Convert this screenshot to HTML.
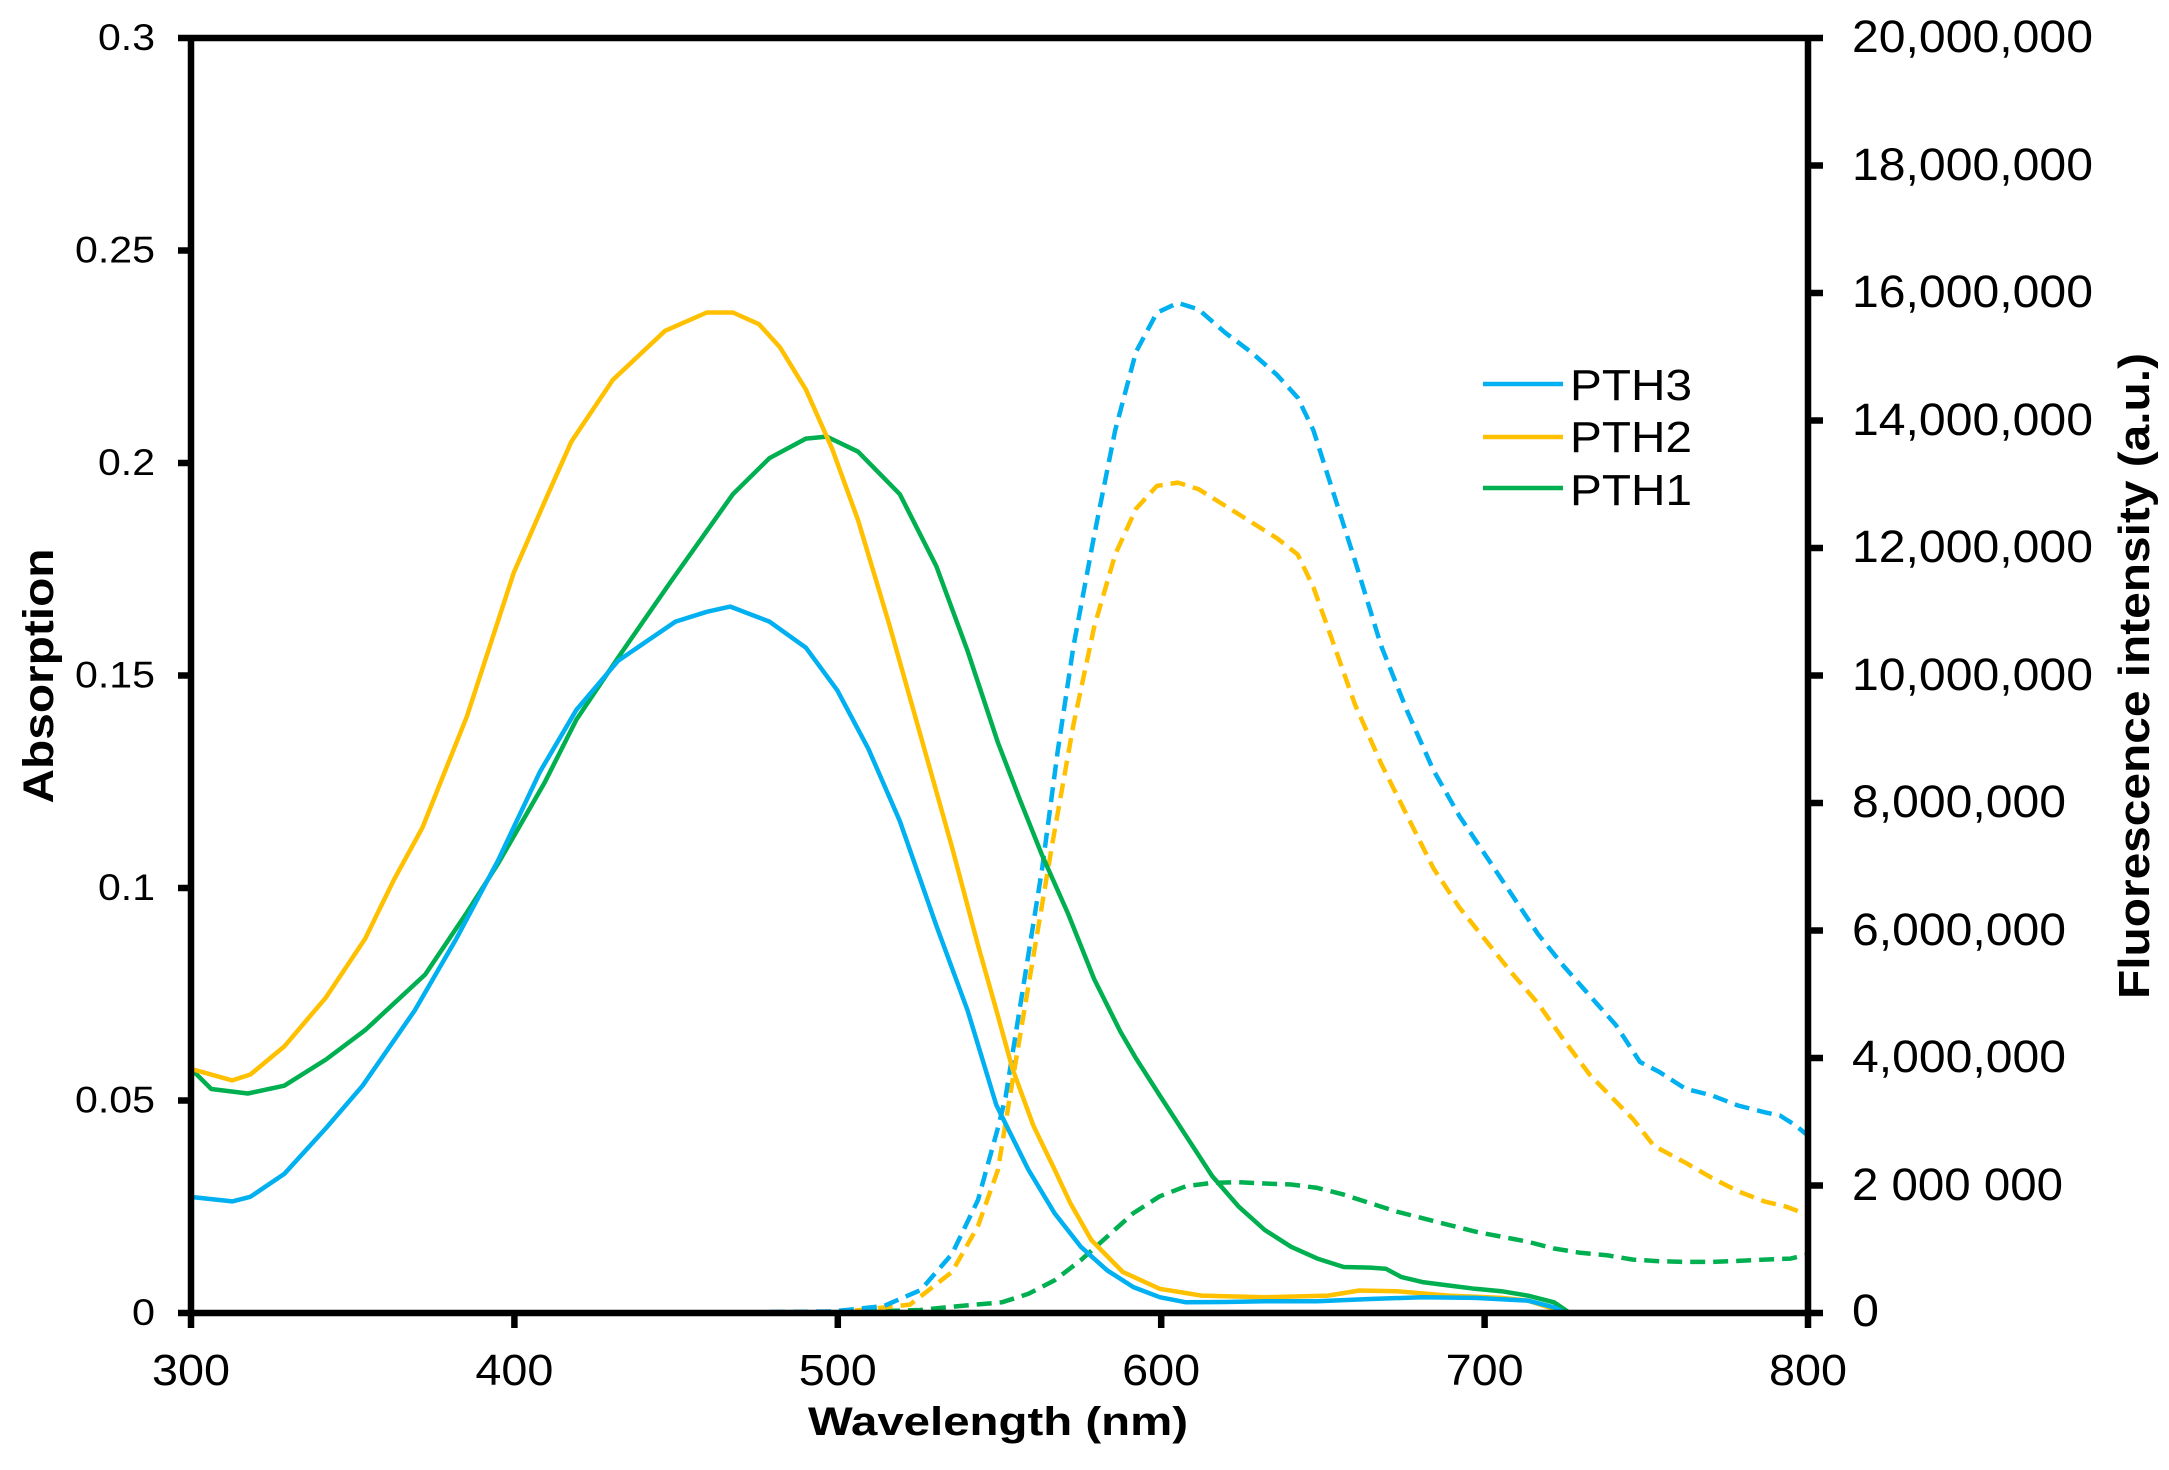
<!DOCTYPE html>
<html>
<head>
<meta charset="utf-8">
<style>
  html, body { margin:0; padding:0; background:#ffffff; }
  svg { display:block; }
  text { font-family: "Liberation Sans", Arial, sans-serif; fill:#000; }
  .b { font-weight:bold; }
</style>
</head>
<body>
<svg width="2169" height="1470" viewBox="0 0 2169 1470" xmlns="http://www.w3.org/2000/svg">
  <rect x="0" y="0" width="2169" height="1470" fill="#ffffff"/>

  <!-- Dashed fluorescence series -->
  <g fill="none" stroke-width="4.5" stroke-dasharray="15 8" stroke-linejoin="round">
    <polyline stroke="#00B050" points="770,1312.5 850,1312 920,1310 960,1306 1001.9,1302.3 1028.2,1293.9 1054.5,1280.4 1080.8,1260.2 1107.1,1236.7 1133.4,1213.1 1159.7,1196.3 1186,1186.2 1212.2,1182.9 1238.5,1182.2 1264.8,1183.5 1291.1,1184.5 1317.4,1187.9 1343.7,1194.6 1370,1203.1 1396.3,1211.5 1422.5,1218.2 1448.8,1224.9 1475.1,1231.6 1501.4,1236.7 1527.7,1241.7 1554,1248.5 1580.3,1252.8 1606.6,1255.2 1632.9,1259.6 1659.2,1261.2 1685.4,1261.9 1711.7,1261.9 1738,1260.9 1764.3,1259.6 1790.6,1258.6 1806,1255"/>
    <polyline stroke="#FFC000" points="832,1313 910,1304.6 952,1272 978,1226 997.9,1170 1010.9,1090.5 1031.7,966.3 1052.6,842.1 1073.5,724.4 1094.3,626.4 1115.2,554.5 1136,508.8 1156.9,485.9 1177.8,482.6 1198.6,489.2 1224.7,505.5 1250.8,521.8 1276.9,538.2 1297.7,554.5 1313.4,587.2 1334.3,646 1355.1,704.8 1381.2,763.7 1407.3,816 1433.4,868.2 1459.4,907.5 1485.5,940.1 1511.6,972.8 1537.7,1003 1563.8,1040 1590,1075 1606.6,1092 1632.9,1119 1653.9,1145.9 1685.4,1162.7 1711.7,1177.8 1738,1191.3 1764.3,1201.4 1785.3,1206.4 1806,1214"/>
    <polyline stroke="#00B0F0" points="770,1312 832,1311.5 884,1306 920.7,1290 952,1254 978,1200 997.9,1128 1005.6,1097 1021.3,999 1042.2,868.2 1057.8,750.6 1073.5,646 1094.3,534.9 1115.2,430.3 1136,351.9 1156.9,312.7 1177.8,302.9 1198.6,309.4 1224.7,332.3 1250.8,351.9 1276.9,374.8 1297.7,397.6 1313.4,430.3 1334.3,495.7 1355.1,561 1381.2,646 1407.3,711.4 1433.4,770.2 1459.4,816 1485.5,855.2 1511.6,894.4 1537.7,933.6 1563.8,966.3 1589.8,995.7 1615.9,1025.1 1640,1062 1659.2,1071.9 1685.4,1088.7 1711.7,1095.4 1738,1105.5 1764.3,1112.2 1780.1,1115.6 1795,1125 1806,1134"/>
  </g>

  <!-- Solid absorption series -->
  <g fill="none" stroke-width="4.5" stroke-linejoin="round" stroke-linecap="round">
    <polyline stroke="#00B050" points="191.5,1069.3 211.3,1089 247.8,1093.5 284.3,1085.7 326,1059.5 365.2,1030.1 425.2,974.5 466.9,912.5 498.2,863.4 545.1,781.7 576.4,719.6 618.1,657.6 670.3,582.4 732.9,494.2 769.4,458.2 805.9,438.6 826.8,436.6 858.1,451.7 899.8,494.2 936.3,566.1 967.6,651 997.9,742.5 1020,800 1042,855 1068.2,914 1094.3,979.4 1120.4,1031.6 1136,1058.4 1159.7,1095.4 1186,1135.8 1212.2,1176.1 1238.5,1206.4 1264.8,1230 1291.1,1246.8 1317.4,1258.6 1343.7,1267 1370,1267.6 1385.7,1268.7 1401.5,1277.1 1422.5,1282.1 1448.8,1285.5 1475.1,1288.8 1501.4,1291.2 1527.7,1295.6 1554,1302.3 1569.8,1313"/>
    <polyline stroke="#FFC000" points="191.5,1069 232.2,1080.4 250.4,1074.5 284.3,1046.4 326,997.4 365.2,938.6 393.9,879.8 422.5,827.5 466.9,716.4 513.8,572.6 545.1,500.7 571.2,441.9 612.9,379.8 665.1,330.8 706.8,312.5 732.9,312.5 759,324.2 779.8,347.1 805.9,389.6 832,448.4 858.1,520.3 889.4,624.9 920.7,736 952,847.1 978,945.2 996.3,1010 1012.4,1068.5 1033.4,1125.7 1054.5,1169.4 1070.3,1203.1 1091.3,1240 1122.8,1272 1159.7,1288.8 1201.7,1295.6 1264.8,1297.2 1327.9,1295.6 1359.4,1290.5 1396.3,1291.2 1448.8,1295.6 1501.4,1297.9 1527.7,1300.6 1554,1309 1564.5,1313"/>
    <polyline stroke="#00B0F0" points="191.5,1197 232.2,1201.4 250.4,1196.8 284.3,1173.9 326,1128.1 362.6,1085.7 414.7,1010.5 456.4,938.6 498.2,860.2 539.9,771.9 576.4,709.8 618.1,660.8 675.5,621.6 706.8,611.8 730.3,606.6 769.4,621.6 805.9,647.7 837.2,690.2 868.5,749.1 899.8,821 936.3,925.5 967.6,1010.5 996.3,1105 1028.2,1169.4 1054.5,1213.1 1080.8,1246.8 1107.1,1270.3 1133.4,1287.1 1159.7,1297.2 1186,1302.3 1225,1302 1264.8,1301.3 1317.4,1301.3 1370,1299 1422.5,1297.2 1475.1,1297.9 1527.7,1300.6 1554,1307.3 1566,1313"/>
  </g>

  <!-- Axes / frame -->
  <g stroke="#000" stroke-width="6.5" fill="none">
    <line x1="191" y1="38" x2="191" y2="1328"/>
    <line x1="1808" y1="38" x2="1808" y2="1328"/>
    <line x1="178" y1="1313" x2="1823" y2="1313"/>
    <line x1="178" y1="38" x2="1823" y2="38"/>
    <!-- left ticks -->
    <line x1="178" y1="1100.5" x2="191" y2="1100.5"/>
    <line x1="178" y1="888" x2="191" y2="888"/>
    <line x1="178" y1="675.5" x2="191" y2="675.5"/>
    <line x1="178" y1="463" x2="191" y2="463"/>
    <line x1="178" y1="250.5" x2="191" y2="250.5"/>
    <!-- right ticks -->
    <line x1="1808" y1="1185.5" x2="1823" y2="1185.5"/>
    <line x1="1808" y1="1058" x2="1823" y2="1058"/>
    <line x1="1808" y1="930.5" x2="1823" y2="930.5"/>
    <line x1="1808" y1="803" x2="1823" y2="803"/>
    <line x1="1808" y1="675.5" x2="1823" y2="675.5"/>
    <line x1="1808" y1="548" x2="1823" y2="548"/>
    <line x1="1808" y1="420.5" x2="1823" y2="420.5"/>
    <line x1="1808" y1="293" x2="1823" y2="293"/>
    <line x1="1808" y1="165.5" x2="1823" y2="165.5"/>
    <!-- bottom ticks -->
    <line x1="514.4" y1="1313" x2="514.4" y2="1328"/>
    <line x1="837.8" y1="1313" x2="837.8" y2="1328"/>
    <line x1="1161.2" y1="1313" x2="1161.2" y2="1328"/>
    <line x1="1484.6" y1="1313" x2="1484.6" y2="1328"/>
  </g>

  <!-- Left tick labels -->
  <g font-size="37" text-anchor="end">
    <text x="155" y="1325" textLength="23" lengthAdjust="spacingAndGlyphs">0</text>
    <text x="155" y="1112.5" textLength="80" lengthAdjust="spacingAndGlyphs">0.05</text>
    <text x="155" y="900" textLength="57" lengthAdjust="spacingAndGlyphs">0.1</text>
    <text x="155" y="687.5" textLength="80" lengthAdjust="spacingAndGlyphs">0.15</text>
    <text x="155" y="475" textLength="57" lengthAdjust="spacingAndGlyphs">0.2</text>
    <text x="155" y="262.5" textLength="80" lengthAdjust="spacingAndGlyphs">0.25</text>
    <text x="155" y="50" textLength="57" lengthAdjust="spacingAndGlyphs">0.3</text>
  </g>

  <!-- Bottom tick labels -->
  <g font-size="44" text-anchor="middle">
    <text x="191" y="1385" textLength="78" lengthAdjust="spacingAndGlyphs">300</text>
    <text x="514.4" y="1385" textLength="78" lengthAdjust="spacingAndGlyphs">400</text>
    <text x="837.8" y="1385" textLength="78" lengthAdjust="spacingAndGlyphs">500</text>
    <text x="1161.2" y="1385" textLength="78" lengthAdjust="spacingAndGlyphs">600</text>
    <text x="1484.6" y="1385" textLength="78" lengthAdjust="spacingAndGlyphs">700</text>
    <text x="1808" y="1385" textLength="78" lengthAdjust="spacingAndGlyphs">800</text>
  </g>

  <!-- Right tick labels -->
  <g font-size="45" text-anchor="start">
    <text x="1852" y="1326" textLength="27" lengthAdjust="spacingAndGlyphs">0</text>
    <text x="1852" y="1200" textLength="211" lengthAdjust="spacingAndGlyphs">2 000 000</text>
    <text x="1852" y="1072" textLength="214" lengthAdjust="spacingAndGlyphs">4,000,000</text>
    <text x="1852" y="945" textLength="214" lengthAdjust="spacingAndGlyphs">6,000,000</text>
    <text x="1852" y="817" textLength="214" lengthAdjust="spacingAndGlyphs">8,000,000</text>
    <text x="1852" y="690" textLength="241" lengthAdjust="spacingAndGlyphs">10,000,000</text>
    <text x="1852" y="562" textLength="241" lengthAdjust="spacingAndGlyphs">12,000,000</text>
    <text x="1852" y="435" textLength="241" lengthAdjust="spacingAndGlyphs">14,000,000</text>
    <text x="1852" y="307" textLength="241" lengthAdjust="spacingAndGlyphs">16,000,000</text>
    <text x="1852" y="180" textLength="241" lengthAdjust="spacingAndGlyphs">18,000,000</text>
    <text x="1852" y="52" textLength="241" lengthAdjust="spacingAndGlyphs">20,000,000</text>
  </g>

  <!-- Axis titles -->
  <text class="b" x="998" y="1435" font-size="40" text-anchor="middle" textLength="380" lengthAdjust="spacingAndGlyphs">Wavelength (nm)</text>
  <text class="b" transform="translate(53,676) rotate(-90)" font-size="43" text-anchor="middle" textLength="255" lengthAdjust="spacingAndGlyphs">Absorption</text>
  <text class="b" transform="translate(2149,676) rotate(-90)" font-size="44" text-anchor="middle" textLength="646" lengthAdjust="spacingAndGlyphs">Fluorescence intensity (a.u.)</text>

  <!-- Legend -->
  <g stroke-width="4.5" fill="none">
    <line x1="1483" y1="384" x2="1563" y2="384" stroke="#00B0F0"/>
    <line x1="1483" y1="437" x2="1563" y2="437" stroke="#FFC000"/>
    <line x1="1483" y1="488" x2="1563" y2="488" stroke="#00B050"/>
  </g>
  <g font-size="44">
    <text x="1570" y="400" textLength="122" lengthAdjust="spacingAndGlyphs">PTH3</text>
    <text x="1570" y="452" textLength="122" lengthAdjust="spacingAndGlyphs">PTH2</text>
    <text x="1570" y="505" textLength="122" lengthAdjust="spacingAndGlyphs">PTH1</text>
  </g>
</svg>
</body>
</html>
